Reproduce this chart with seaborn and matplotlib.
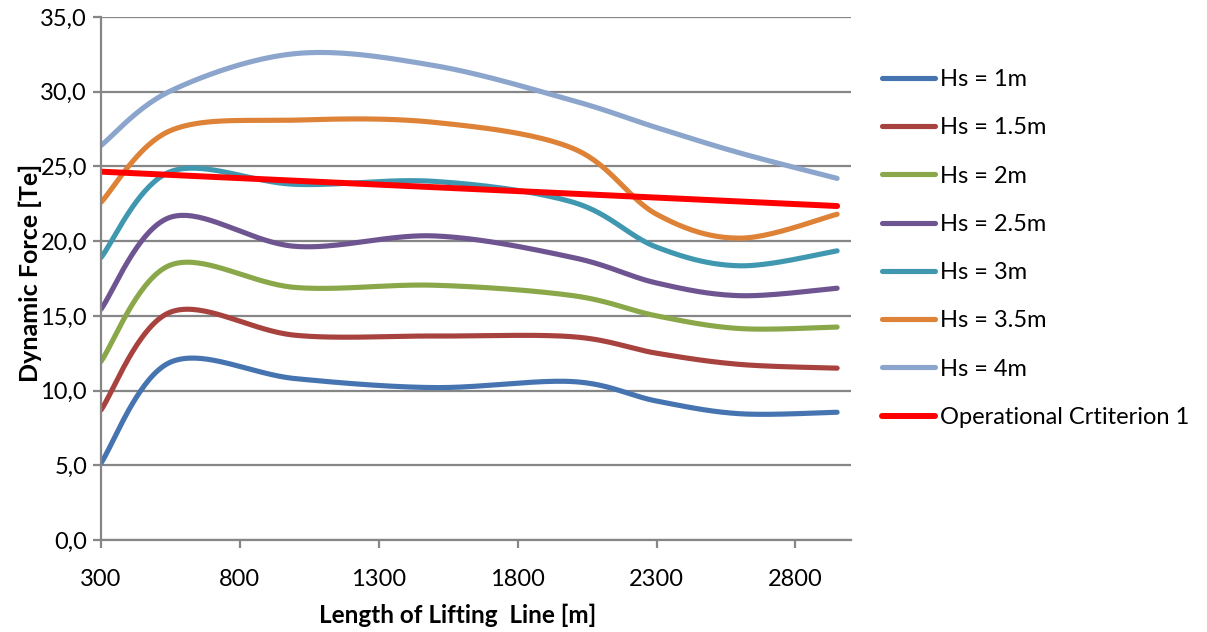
import numpy as np
import pandas as pd
import matplotlib
matplotlib.use("Agg")
import matplotlib.pyplot as plt
from matplotlib.ticker import FuncFormatter, FixedLocator
import seaborn as sns

# ---------------- data ----------------
length_m = [300, 550, 1000, 1500, 2000, 2300, 2600, 2950]
hs_1 = [5.15, 11.9, 10.8, 10.2, 10.6, 9.3, 8.45, 8.55]
hs_1_5 = [8.7, 15.25, 13.7, 13.65, 13.6, 12.5, 11.75, 11.5]
hs_2 = [11.95, 18.4, 16.9, 17.05, 16.35, 15.0, 14.15, 14.25]
hs_2_5 = [15.45, 21.6, 19.65, 20.35, 18.9, 17.2, 16.35, 16.85]
hs_3 = [18.9, 24.65, 23.8, 24.0, 22.6, 19.6, 18.35, 19.35]
hs_3_5 = [22.6, 27.4, 28.1, 27.95, 26.2, 21.8, 20.2, 21.8]
hs_4 = [26.4, 30.05, 32.55, 31.75, 29.4, 27.6, 25.9, 24.2]
criterion_x = [300, 2950]
criterion_y = [24.65, 22.35]

series_names = ["Hs = 1m", "Hs = 1.5m", "Hs = 2m", "Hs = 2.5m",
                "Hs = 3m", "Hs = 3.5m", "Hs = 4m"]
series_values = [hs_1, hs_1_5, hs_2, hs_2_5, hs_3, hs_3_5, hs_4]
series_colors = ["#4674B0", "#A8423F", "#8AA84A", "#6E5591",
                 "#4098B0", "#DE8237", "#8CA5CD"]
criterion_name = "Operational Crtiterion 1"
criterion_color = "#FF0000"

x_ticks = [300, 800, 1300, 1800, 2300, 2800]
y_ticks = [0, 5, 10, 15, 20, 25, 30, 35]


def excel_smooth(xs, ys, n=40):
    """Excel-style smoothed line (cubic Bezier through the points)."""
    P = np.column_stack([np.asarray(xs, float), np.asarray(ys, float)])
    out = []
    t = np.linspace(0, 1, n)[:, None]
    for i in range(len(P) - 1):
        p0 = P[i - 1] if i > 0 else P[i]
        p1, p2 = P[i], P[i + 1]
        p3 = P[i + 2] if i + 2 < len(P) else P[i + 1]
        c1 = p1 + (p2 - p0) / 6.0
        c2 = p2 - (p3 - p1) / 6.0
        b = ((1 - t) ** 3) * p1 + 3 * ((1 - t) ** 2) * t * c1 \
            + 3 * (1 - t) * t ** 2 * c2 + t ** 3 * p2
        out.append(b if i == 0 else b[1:])
    B = np.vstack(out)
    return B[:, 0], B[:, 1]


# ---------------- styling ----------------
sns.set_theme(style="white")
plt.rcParams["font.family"] = ["Lato", "DejaVu Sans"]

W, H = 1207, 632
fig = plt.figure(figsize=(W / 100, H / 100), dpi=100)
left, right, top, bottom = 101, 851, 17, 540
ax = fig.add_axes([left / W, 1 - bottom / H, (right - left) / W, (bottom - top) / H])

grey = "#868686"

for name, vals, col in zip(series_names, series_values, series_colors):
    sx, sy = excel_smooth(length_m, vals)
    df = pd.DataFrame({"x": sx, "y": sy})
    sns.lineplot(data=df, x="x", y="y", sort=False, estimator=None,
                 color=col, lw=3.7, label=name, ax=ax,
                 solid_capstyle="round")

dfc = pd.DataFrame({"x": criterion_x, "y": criterion_y})
sns.lineplot(data=dfc, x="x", y="y", sort=False, estimator=None,
             color=criterion_color, lw=4.3, label=criterion_name, ax=ax,
             solid_capstyle="round")

ax.set_xlim(300, 3000)
ax.set_ylim(0, 35)
ax.xaxis.set_major_locator(FixedLocator(x_ticks))
ax.yaxis.set_major_locator(FixedLocator(y_ticks))
ax.yaxis.set_major_formatter(FuncFormatter(lambda v, p: f"{v:.1f}".replace(".", ",")))
ax.xaxis.set_major_formatter(FuncFormatter(lambda v, p: f"{int(v)}"))

ax.yaxis.grid(True, color=grey, lw=1.6)
ax.xaxis.grid(False)
ax.set_axisbelow(True)
for s in ["top", "right"]:
    ax.spines[s].set_visible(False)
for s in ["left", "bottom"]:
    ax.spines[s].set_color(grey)
    ax.spines[s].set_linewidth(1.6)

ax.tick_params(axis="y", which="major", direction="out", length=6, width=1.6,
               color=grey, left=True, labelsize=17, pad=4, labelcolor="#000000")
ax.tick_params(axis="x", which="major", direction="out", length=5.5, width=1.6,
               color=grey, bottom=True, labelsize=17, pad=15.5, labelcolor="#000000")

ax.set_xlabel("Length of Lifting  Line [m]", fontsize=17.5, fontweight="bold", color="#000000")
ax.set_ylabel("Dynamic Force [Te]", fontsize=18, fontweight="bold", color="#000000")
ax.xaxis.label.set_va("center")
ax.xaxis.set_label_coords((458 - left) / (right - left), (bottom - 615) / (bottom - top))
ax.yaxis.label.set_va("center")
ax.yaxis.set_label_coords((30 - left) / (right - left), (bottom - 273) / (bottom - top))

fs = 17
fs_px = fs * 100 / 72
handles, labels = ax.get_legend_handles_labels()
leg = ax.legend(handles, labels, loc="upper left",
                bbox_to_anchor=(882 / W, 1 - 69 / H), bbox_transform=fig.transFigure,
                frameon=False, fontsize=fs, borderpad=0, borderaxespad=0,
                handlelength=53 / fs_px, handletextpad=5 / fs_px,
                labelspacing=1.155)
for t in leg.get_texts():
    t.set_color("#000000")

fig.savefig("out.png", dpi=100, facecolor="white")
